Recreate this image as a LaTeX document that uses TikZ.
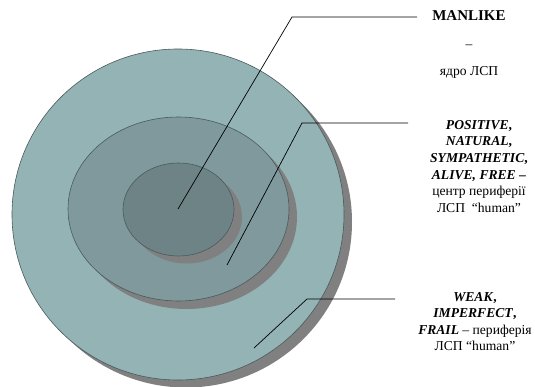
\documentclass[tikz,border=0pt]{standalone}
\usepackage{fontspec}
\setmainfont{Liberation Serif}
\definecolor{outerc}{HTML}{94B3B5}
\definecolor{midc}{HTML}{7F999C}
\definecolor{innerc}{HTML}{6E8385}
\definecolor{shadc}{HTML}{808080}
\definecolor{edgec}{HTML}{4A5A5C}
\tikzset{
  ring/.style={draw=edgec, line width=0.6pt},
  shad/.style={fill=shadc, draw=none},
  lead/.style={draw=black, line width=0.7pt},
  lbl/.style={align=center, font=\fontsize{13.6}{16.6}\selectfont, inner sep=0pt},
}
\newcommand{\bi}[1]{\textbf{\textit{#1}}}
\begin{document}
\begin{tikzpicture}[x=1pt,y=-1pt]
\useasboundingbox (0,0) rectangle (535,387);
% outer
\fill[shad] (186,222) ellipse [x radius=166, y radius=165.5];
\path[ring, fill=outerc] (178,214.5) ellipse [x radius=166, y radius=165.5];
% middle
\fill[shad] (186.5,217) ellipse [x radius=110.5, y radius=92];
\path[ring, fill=midc] (178.5,209) ellipse [x radius=110.5, y radius=92];
% inner
\fill[shad] (186.5,217) ellipse [x radius=55.5, y radius=46.5];
\path[ring, fill=innerc] (178.5,209.5) ellipse [x radius=55.5, y radius=46.5];
% leader anchors
\coordinate (p1) at (178,209);
\coordinate (k1) at (292,17);
\coordinate (e1) at (417,17);
\coordinate (p2) at (227,265);
\coordinate (k2) at (302,123);
\coordinate (e2) at (408,123);
\coordinate (p3) at (254,348);
\coordinate (k3) at (307,299);
\coordinate (e3) at (395,299);
\draw[lead] (p1) -- (k1) -- (e1);
\draw[lead] (p2) -- (k2) -- (e2);
\draw[lead] (p3) -- (k3) -- (e3);
% labels
\node[lbl, font=\fontsize{15}{17}\selectfont\bfseries] (t1) at (469,16) {MANLIKE};
\node[lbl] (t1b) at (469,47) {–};
\node[lbl] (t1c) at (469,72) {ядро ЛСП};
\node[lbl, anchor=north] (t2) at (479,120) {\bi{POSITIVE}\textbf{,}\\ \bi{NATURAL}\textbf{,}\\ \bi{SYMPATHETIC}\textbf{,}\\ \bi{ALIVE, FREE} \textbf{–}\\ центр периферії\\ ЛСП~~“human”};
\node[lbl, anchor=north] (t3) at (475,292) {\bi{WEAK}\textbf{,}\\ \bi{IMPERFECT}\textbf{,}\\ \bi{FRAIL} – периферія\\ ЛСП “human”};
\end{tikzpicture}
\end{document}
